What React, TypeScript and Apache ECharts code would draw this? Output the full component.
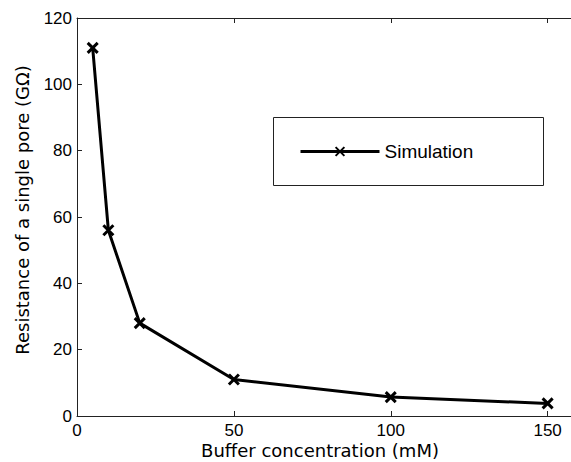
import React, { useEffect, useRef } from "react";
import * as echarts from "echarts";

const concentrations = [5, 10, 20, 50, 100, 150];
const resistance = [111, 56, 28, 11, 5.7, 3.8];
const seriesName = "Simulation";
const xTitle = "Buffer concentration (mM)";
const yTitle = "Resistance of a single pore (GΩ)";

const FONT = "'Liberation Sans', Arial, Helvetica, sans-serif";
const TITLE_FONT = "'DejaVu Sans', 'Liberation Sans', Arial, sans-serif";
const X_MARK = "path://M0,0L10,10M0,10L10,0";

export default function App() {
  const ref = useRef<HTMLDivElement>(null);
  useEffect(() => {
    if (!ref.current) return;
    const chart = echarts.init(ref.current, undefined, { renderer: "svg" });
    const data = concentrations.map((x, i) => [x, resistance[i]]);
    const axisCommon = {
      axisLine: { show: true, lineStyle: { color: "#222", width: 1 } },
      axisTick: { show: true, inside: true, length: 5, lineStyle: { color: "#222" } },
      splitLine: { show: false },
    };
    chart.setOption({
      animation: false,
      backgroundColor: "#fff",
      textStyle: { fontFamily: FONT },
      grid: {
        left: 77,
        top: 18,
        width: 502,
        height: 398,
        containLabel: false,
        outerBoundsMode: "none",
      },
      xAxis: [
        {
          type: "value",
          min: 0,
          max: 160,
          interval: 50,
          ...axisCommon,
          axisLabel: {
            color: "#000",
            fontSize: 17,
            fontFamily: FONT,
            margin: 6,
            lineHeight: 16,
            formatter: (v: number) => (v > 150 ? "" : String(v)),
          },
        },
        {
          type: "value",
          position: "top",
          min: 0,
          max: 160,
          interval: 50,
          ...axisCommon,
          axisLabel: { show: false },
        },
      ],
      yAxis: [
        {
          type: "value",
          min: 0,
          max: 120,
          interval: 20,
          ...axisCommon,
          axisLabel: { color: "#000", fontSize: 17, fontFamily: FONT, margin: 5 },
        },
      ],
      legend: {
        show: true,
        left: 299,
        top: 142,
        itemWidth: 79,
        itemHeight: 11,
        padding: 0,
        lineStyle: { width: 3, color: "#000" },
        textStyle: { fontSize: 19, color: "#000", fontFamily: FONT },
        data: [seriesName],
      },
      graphic: [
        {
          type: "rect",
          z: 0,
          shape: { x: 273.5, y: 117.5, width: 270, height: 68 },
          style: { fill: "#fff", stroke: "#222", lineWidth: 1 },
        },
        {
          type: "text",
          x: 320,
          y: 450,
          style: {
            text: xTitle,
            fontSize: 18,
            fontFamily: TITLE_FONT,
            fill: "#000",
            align: "center",
            verticalAlign: "middle",
          },
        },
        {
          type: "text",
          x: 22,
          y: 210,
          rotation: Math.PI / 2,
          style: {
            text: yTitle,
            fontSize: 18,
            fontFamily: TITLE_FONT,
            fill: "#000",
            align: "center",
            verticalAlign: "middle",
          },
        },
      ],
      series: [
        {
          name: seriesName,
          type: "line",
          data,
          symbol: X_MARK,
          symbolSize: 10,
          showAllSymbol: true,
          lineStyle: { color: "#000", width: 3 },
          itemStyle: { color: "#000", borderColor: "#000", borderWidth: 3 },
          z: 5,
        },
      ],
    });
    return () => chart.dispose();
  }, []);
  return (
    <div
      ref={ref}
      style={{ position: "fixed", left: 0, top: 0, width: 571, height: 462 }}
    />
  );
}
